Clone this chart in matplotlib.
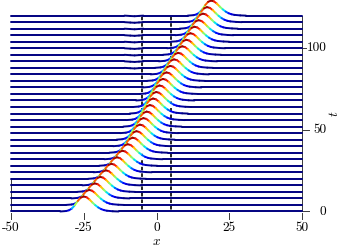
import numpy as np
import matplotlib
matplotlib.use("Agg")
import matplotlib.pyplot as plt
from matplotlib.collections import LineCollection

# ─── Values ────────────────────────────────────────────────────
t_vals = [0, 4, 8, 12, 16, 20, 24, 28, 32, 36, 40, 44, 48, 52, 56, 60,
          64, 68, 72, 76, 80, 84, 88, 92, 96, 100, 104, 108, 112, 116, 120]
centers = [-25.0, -23.1, -21.2, -19.3, -17.4, -15.5, -13.6, -11.7, -9.9,
           -8.2, -6.9, -5.7, -4.5, -3.4, -2.3, -1.2, -0.1, 1.0, 2.2, 3.4,
           4.7, 6.0, 7.4, 8.8, 10.2, 11.6, 13.0, 14.4, 15.9, 17.3, 18.7]

# soliton profile (offset from peak, relative height)
prof_dx = [-8, -6, -5, -4, -3, -2, -1, 0, 1, 2, 3, 4, 5, 6, 7, 8, 10, 12]
prof_h = [0.0, 0.03, 0.08, 0.2, 0.42, 0.7, 0.92, 1.0, 0.95, 0.8, 0.6,
          0.42, 0.27, 0.16, 0.09, 0.05, 0.015, 0.0]

# small radiation dip left behind at the defect (late curves only)
ripple_x = [-11.0, -9.0, -7.5, -6.0, -4.5]
ripple_h = [0.0, -0.025, -0.04, -0.02, 0.0]
ripple_from = 88

amp = 9.2                 # peak height in t units
defect_x = [-5, 5]
x_ticks = [-50, -25, 0, 25, 50]
x_ticklabels = ["-50", "-25", "0", "25", "50"]
t_ticks = [0, 50, 100]
t_ticklabels = ["0", "50", "100"]

# ─── Figure / axes (pixel-matched) ─────────────────────────────
W, H = 341, 247
plt.rcParams["mathtext.fontset"] = "cm"
plt.rcParams["lines.scale_dashes"] = False
fig = plt.figure(figsize=(W / 100, H / 100), dpi=100)
ax = fig.add_axes([10.7 / W, 19.2 / H, 291.6 / W, 228.5 / H])
ax.set_xlim(-50, 50)
ax.set_ylim(-10, 130)
ax.axis("off")

cmap = plt.get_cmap("jet")
axc = "#3a3a3a"

# dashed defect borders (behind everything), dash period = curve spacing
d_on, d_off = 2.6, 2.1
for xd in defect_x:
    ax.plot([xd, xd], [0, 120], color="k", lw=1.2,
            ls=(d_on + d_off / 2, (d_on, d_off)),
            zorder=1, clip_on=False)

# axis lines + ticks
ax.plot([50, 50], [0, 120], color=axc, lw=0.7, zorder=0, clip_on=False)
ax.plot([-50, -50], [0, 20.5], color=axc, lw=0.7, zorder=0, clip_on=False)
for xt in x_ticks:
    ax.plot([xt, xt], [-0.9, -4.6], color=axc, lw=0.7, clip_on=False)
for tt, ln in zip(t_ticks, [2.4, 2.4, 1.3]):
    ax.plot([50, 50 + ln], [tt, tt], color=axc, lw=0.7, clip_on=False)

# ─── Waterfall, drawn back to front ───────────────────────────
n = len(t_vals)
for i in range(n - 1, -1, -1):
    t, c = t_vals[i], centers[i]
    xs = [-50.0]
    hs = [0.0]
    if t >= ripple_from:
        xs += ripple_x
        hs += ripple_h
    xs += [c + d for d in prof_dx] + [50.0]
    hs += prof_h + [0.0]
    xs = np.array(xs)
    hs = np.array(hs)
    ys = t + amp * hs
    z = 10 + 2 * (n - i)
    ax.fill_between(xs, t, ys, color="white", lw=0, zorder=z)
    pts = np.column_stack([xs, ys])
    segs = np.stack([pts[:-1], pts[1:]], axis=1)
    cols = cmap(np.clip((hs[:-1] + hs[1:]) / 2, 0, 1))
    lc = LineCollection(segs, colors=cols, lw=1.4, zorder=z + 1,
                        capstyle="round", joinstyle="round")
    lc.set_clip_on(False)
    ax.add_collection(lc)

# ─── Text ─────────────────────────────────────────────────────
def px(x, y):
    return x / W, 1 - y / H

for xt, lab in zip(x_ticks, x_ticklabels):
    xp = 10.7 + (xt + 50) * 2.916
    fig.text(*px(xp, 227.5), lab, family="cmr10", fontsize=9.6,
             ha="center", va="center")
for tt, lab in zip(t_ticks, t_ticklabels):
    yp = 211.5 - tt * 1.632
    fig.text(*px(326.5, yp), lab, family="cmr10", fontsize=9.6,
             ha="right", va="center")

fig.text(*px(156.3, 245.3), r"$x$", fontsize=9.6, ha="center", va="baseline")
fig.text(*px(334, 114), r"$t$", fontsize=9.6, ha="center", va="center",
         rotation=90)

fig.savefig("out.png", dpi=100)
